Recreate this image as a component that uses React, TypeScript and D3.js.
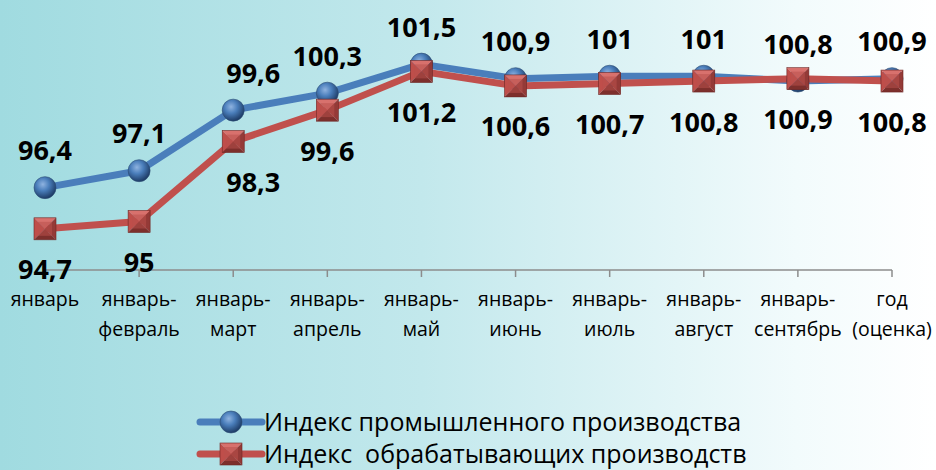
import React from "react";
import * as d3 from "d3";

const categories: string[][] = [
  ["январь"],
  ["январь-", "февраль"],
  ["январь-", "март"],
  ["январь-", "апрель"],
  ["январь-", "май"],
  ["январь-", "июнь"],
  ["январь-", "июль"],
  ["январь-", "август"],
  ["январь-", "сентябрь"],
  ["год", "(оценка)"],
];
const industrial: number[] = [96.4, 97.1, 99.6, 100.3, 101.5, 100.9, 101, 101, 100.8, 100.9];
const manufacturing: number[] = [94.7, 95, 98.3, 99.6, 101.2, 100.6, 100.7, 100.8, 100.9, 100.8];
const seriesNames: string[] = ["Индекс промышленного производства", "Индекс  обрабатывающих производств"];

const W = 936;
const H = 470;
const BLUE = "#4a7ebb";
const RED = "#c0504d";
const FONT = "'Open Sans', 'Noto Sans', sans-serif";

const fmt = (v: number) => String(v).replace(".", ",");

function Sphere({ x, y }: { x: number; y: number }) {
  return <circle cx={x} cy={y} r={11} fill="url(#sphereGrad)" stroke="#2c4d75" strokeWidth={0.6} />;
}

function Pyramid({ x, y }: { x: number; y: number }) {
  const s = 11;
  const tl = [x - s, y - s], tr = [x + s, y - s], br = [x + s, y + s], bl = [x - s, y + s];
  const c = [x, y];
  const p = (pts: number[][]) => pts.map((q) => q.join(",")).join(" ");
  return (
    <g>
      <polygon points={p([tl, tr, c])} fill="#d8716d" />
      <polygon points={p([tl, bl, c])} fill="#bf4e4a" />
      <polygon points={p([tr, br, c])} fill="#943a37" />
      <polygon points={p([bl, br, c])} fill="#7d2f2c" />
      <rect x={x - s + 4} y={y - s + 4} width={2 * s - 8} height={2 * s - 8} fill="#b9504c" opacity={0.55} />
      <rect x={x - s} y={y - s} width={2 * s} height={2 * s} fill="none" stroke="#6e2624" strokeWidth={0.6} />
    </g>
  );
}

export default function App() {
  const x = d3
    .scalePoint<number>()
    .domain(d3.range(categories.length))
    .range([45, 892]);
  const y = d3.scaleLinear().domain([93, 102]).range([270, 52]);

  const line = d3
    .line<number>()
    .x((_, i) => x(i) as number)
    .y((d) => y(d));

  const nudge = (i: number) => (i === 2 ? 20 : 0);

  return (
    <svg width={W} height={H} style={{ position: "absolute", left: 0, top: 0 }}>
      <defs>
        <linearGradient id="bg" x1="0" x2="1" y1="0" y2="0">
          <stop offset="0" stopColor="#a0dbe0" />
          <stop offset="0.45" stopColor="#c2e8ec" />
          <stop offset="0.85" stopColor="#f2fbfc" />
          <stop offset="1" stopColor="#ffffff" />
        </linearGradient>
        <radialGradient id="sphereGrad" cx="0.4" cy="0.35" r="0.65">
          <stop offset="0" stopColor="#8fb3e0" />
          <stop offset="0.45" stopColor="#4a7ebb" />
          <stop offset="1" stopColor="#1e3c66" />
        </radialGradient>
      </defs>
      <rect x={0} y={0} width={W} height={H} fill="url(#bg)" />

      {/* axis */}
      <line x1={x(0)} x2={x(categories.length - 1)} y1={y(93)} y2={y(93)} stroke="#8c8c8c" strokeWidth={1.5} />
      {categories.map((_, i) => (
        <line key={"t" + i} x1={x(i)} x2={x(i)} y1={y(93)} y2={y(93) + 7} stroke="#8c8c8c" strokeWidth={1.5} />
      ))}
      {categories.map((lines, i) => (
        <text key={"c" + i} x={x(i)} y={306} textAnchor="middle" fontFamily={FONT} fontSize={19.5} fill="#000">
          {lines.map((l, j) => (
            <tspan key={j} x={x(i)} dy={j === 0 ? 0 : 30}>
              {l}
            </tspan>
          ))}
        </text>
      ))}

      {/* lines */}
      <path d={line(industrial) || ""} fill="none" stroke={BLUE} strokeWidth={7} strokeLinejoin="round" />
      <path d={line(manufacturing) || ""} fill="none" stroke={RED} strokeWidth={7} strokeLinejoin="round" />

      {industrial.map((v, i) => (
        <Sphere key={"s" + i} x={x(i) as number} y={y(v)} />
      ))}
      {manufacturing.map((v, i) => (
        <Pyramid key={"p" + i} x={x(i) as number} y={y(v)} />
      ))}

      {/* labels */}
      {industrial.map((v, i) => (
        <text
          key={"li" + i}
          x={(x(i) as number) + nudge(i)}
          y={y(v) - 38}
          textAnchor="middle"
          dominantBaseline="central"
          fontFamily={FONT}
          fontWeight="bold"
          fontSize={27}
          fill="#000"
        >
          {fmt(v)}
        </text>
      ))}
      {manufacturing.map((v, i) => (
        <text
          key={"lm" + i}
          x={(x(i) as number) + nudge(i)}
          y={y(v) + 40}
          textAnchor="middle"
          dominantBaseline="central"
          fontFamily={FONT}
          fontWeight="bold"
          fontSize={27}
          fill="#000"
        >
          {fmt(v)}
        </text>
      ))}

      {/* legend */}
      {[0, 1].map((k) => {
        const ly = k === 0 ? 422 : 454;
        return (
          <g key={"lg" + k}>
            <line x1={200} x2={262} y1={ly} y2={ly} stroke={k === 0 ? BLUE : RED} strokeWidth={7} strokeLinecap="round" />
            {k === 0 ? <Sphere x={231} y={ly} /> : <Pyramid x={231} y={ly} />}
            <text
              x={264}
              y={ly + 9}
              fontFamily={FONT}
              fontSize={25}
              fill="#000"
              style={{ whiteSpace: "pre" }}
              xmlSpace="preserve"
            >
              {seriesNames[k]}
            </text>
          </g>
        );
      })}
    </svg>
  );
}
